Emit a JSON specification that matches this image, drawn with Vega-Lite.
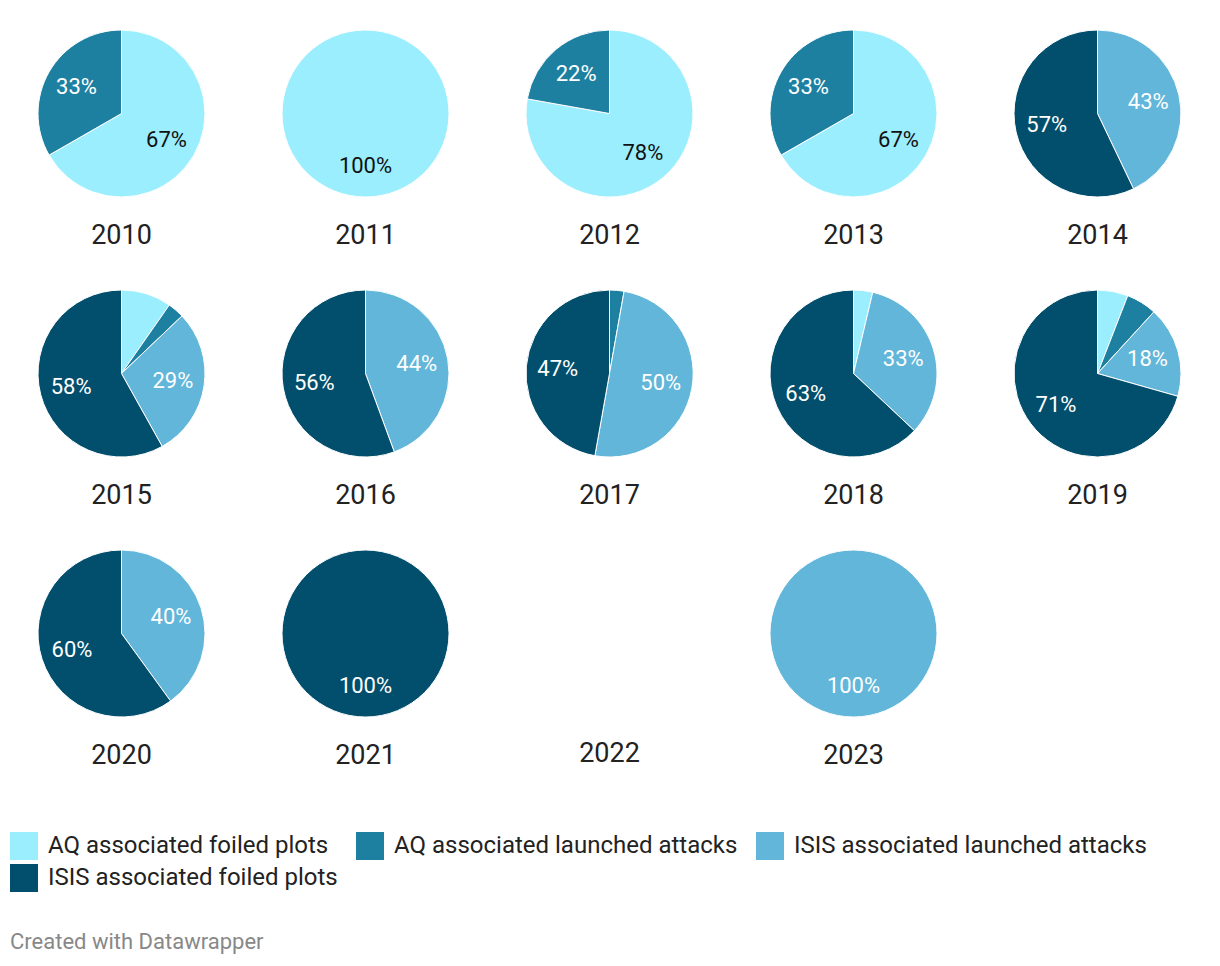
{
  "$schema": "https://vega.github.io/schema/vega-lite/v6.json",
  "padding": {"left": 10, "top": 28, "right": 5, "bottom": 5},
  "background": "white",
  "config": {"font": "Roboto", "view": {"stroke": null}},
  "title": {"text": "Created with Datawrapper", "orient": "bottom", "anchor": "start", "fontSize": 22, "fontWeight": "normal", "color": "#888888", "offset": 40, "dx": 0},
  "data": {"values": [
    {"year": "2010", "category": "AQ associated foiled plots", "k": 1, "share": 0.667},
    {"year": "2010", "category": "AQ associated launched attacks", "k": 2, "share": 0.333},
    {"year": "2011", "category": "AQ associated foiled plots", "k": 1, "share": 1.0},
    {"year": "2012", "category": "AQ associated foiled plots", "k": 1, "share": 0.778},
    {"year": "2012", "category": "AQ associated launched attacks", "k": 2, "share": 0.222},
    {"year": "2013", "category": "AQ associated foiled plots", "k": 1, "share": 0.667},
    {"year": "2013", "category": "AQ associated launched attacks", "k": 2, "share": 0.333},
    {"year": "2014", "category": "ISIS associated launched attacks", "k": 3, "share": 0.429},
    {"year": "2014", "category": "ISIS associated foiled plots", "k": 4, "share": 0.571},
    {"year": "2015", "category": "AQ associated foiled plots", "k": 1, "share": 0.097},
    {"year": "2015", "category": "AQ associated launched attacks", "k": 2, "share": 0.032},
    {"year": "2015", "category": "ISIS associated launched attacks", "k": 3, "share": 0.290},
    {"year": "2015", "category": "ISIS associated foiled plots", "k": 4, "share": 0.581},
    {"year": "2016", "category": "ISIS associated launched attacks", "k": 3, "share": 0.444},
    {"year": "2016", "category": "ISIS associated foiled plots", "k": 4, "share": 0.556},
    {"year": "2017", "category": "AQ associated launched attacks", "k": 2, "share": 0.028},
    {"year": "2017", "category": "ISIS associated launched attacks", "k": 3, "share": 0.500},
    {"year": "2017", "category": "ISIS associated foiled plots", "k": 4, "share": 0.472},
    {"year": "2018", "category": "AQ associated foiled plots", "k": 1, "share": 0.037},
    {"year": "2018", "category": "ISIS associated launched attacks", "k": 3, "share": 0.333},
    {"year": "2018", "category": "ISIS associated foiled plots", "k": 4, "share": 0.630},
    {"year": "2019", "category": "AQ associated foiled plots", "k": 1, "share": 0.059},
    {"year": "2019", "category": "AQ associated launched attacks", "k": 2, "share": 0.059},
    {"year": "2019", "category": "ISIS associated launched attacks", "k": 3, "share": 0.176},
    {"year": "2019", "category": "ISIS associated foiled plots", "k": 4, "share": 0.706},
    {"year": "2020", "category": "ISIS associated launched attacks", "k": 3, "share": 0.4},
    {"year": "2020", "category": "ISIS associated foiled plots", "k": 4, "share": 0.6},
    {"year": "2021", "category": "ISIS associated foiled plots", "k": 4, "share": 1.0},
    {"year": "2022", "category": "ISIS associated foiled plots", "k": 4, "share": null},
    {"year": "2023", "category": "ISIS associated launched attacks", "k": 3, "share": 1.0}
  ]},
  "facet": {
    "field": "year", "type": "ordinal", "title": null,
    "header": {"labelOrient": "bottom", "labelFontSize": 27, "labelColor": "#222222", "labelPadding": 24, "labelFont": "Roboto"}
  },
  "columns": 5,
  "spacing": {"column": 73, "row": 39},
  "spec": {
    "width": 167,
    "height": 167,
    "encoding": {
      "theta": {"field": "share", "type": "quantitative", "stack": true, "scale": {"domain": [0, 1]}},
      "order": {"field": "k", "type": "quantitative"}
    },
    "layer": [
      {
        "mark": {"type": "arc", "stroke": "white", "strokeWidth": 1},
        "encoding": {
          "color": {
            "field": "category", "type": "nominal",
            "scale": {
              "domain": ["AQ associated foiled plots", "AQ associated launched attacks", "ISIS associated launched attacks", "ISIS associated foiled plots"],
              "range": ["#9beefd", "#1e80a1", "#62b6d9", "#024f6d"]
            },
            "legend": {
              "title": null, "orient": "none", "legendX": -28, "legendY": 802,
              "direction": "horizontal", "columns": 3, "columnPadding": 18, "rowPadding": 4,
              "symbolType": "square", "symbolSize": 784, "symbolStrokeWidth": 0, "symbolOpacity": 1,
              "labelFontSize": 24, "labelColor": "#222222", "labelOffset": 10, "labelLimit": 500, "labelFont": "Roboto"
            }
          }
        }
      },
      {
        "mark": {"type": "text", "radius": 52, "fontSize": 22, "font": "Roboto"},
        "encoding": {
          "text": {"condition": {"test": "datum.share == null || datum.share < 0.15", "value": ""}, "field": "share", "type": "quantitative", "format": ".0%"},
          "color": {"condition": {"test": "datum.k == 1", "value": "#111111"}, "value": "white"}
        }
      }
    ]
  }
}
